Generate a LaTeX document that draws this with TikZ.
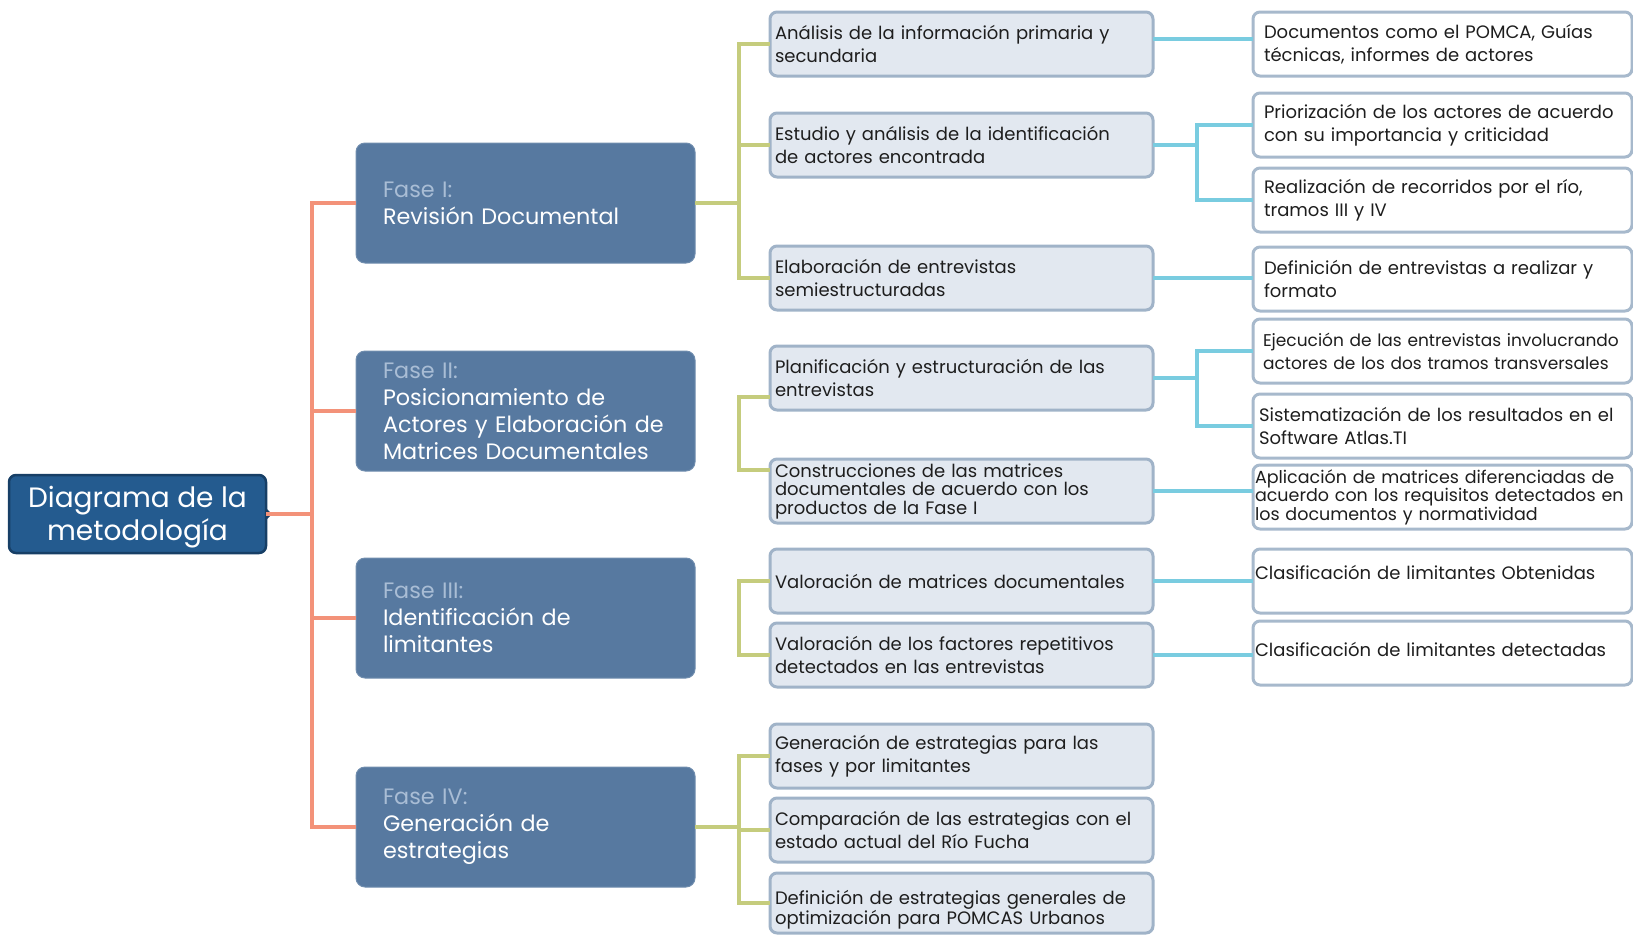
\documentclass[tikz,border=0pt]{standalone}
\usepackage{fontspec}
\setmainfont{Poppins}
\usetikzlibrary{positioning}
\definecolor{rootfill}{HTML}{245B8F}
\definecolor{rootedge}{HTML}{173F66}
\definecolor{phasefill}{HTML}{5779A0}
\definecolor{phaselabel}{HTML}{A9BDD5}
\definecolor{taskfill}{HTML}{E2E8F0}
\definecolor{taskedge}{HTML}{A0B3C8}
\definecolor{resultedge}{HTML}{A7B9CC}
\definecolor{ink}{HTML}{1E1E1E}
\definecolor{orangeline}{HTML}{F39279}
\definecolor{greenline}{HTML}{C5CC7D}
\definecolor{cyanline}{HTML}{79CCE0}
\hyphenpenalty=10000
\exhyphenpenalty=10000
\tikzset{
  rootbox/.style={draw=rootedge, fill=rootfill, line width=2.5pt, rounded corners=7pt, text=white, align=center, font=\fontsize{28}{33}\selectfont, minimum width=257pt, minimum height=78pt, inner sep=0pt, outer sep=0pt},
  phase/.style={draw=phasefill!85!white, fill=phasefill, line width=1pt, rounded corners=9pt, text=white, align=left, font=\fontsize{22.3}{27}\selectfont, text width=285pt, inner xsep=27pt, inner ysep=4pt, minimum height=120pt, outer sep=0pt},
  task/.style={draw=taskedge, fill=taskfill, line width=3pt, rounded corners=7pt, text=ink, align=left, font=\fontsize{18}{23}\selectfont, text width=373pt, inner xsep=5pt, inner ysep=0pt, minimum height=64pt, outer sep=0pt},
  result/.style={task, draw=resultedge, fill=white, text width=357pt, inner xsep=11pt},
  snug/.style={font=\fontsize{18}{18.5}\selectfont},
  squeezed/.style={font=\fontsize{17}{23}\selectfont, text width=359pt, inner xsep=10pt},
  flush/.style={text width=375pt, inner xsep=2pt},
  trunk/.style={draw=orangeline, line width=4pt},
  branch/.style={draw=greenline, line width=4pt},
  leaf/.style={draw=cyanline, line width=4pt},
}
\newcommand{\fase}[1]{{\color{phaselabel}#1}}

\begin{document}
\begin{tikzpicture}[x=1pt, y=1pt]
  \useasboundingbox (0,0) rectangle (1633,-935);

  \node[rootbox, text depth=1pt] (root) at (137.5,-514) {Diagrama de la\\metodología};
  \fill[rootedge] ([yshift=6pt]root.east) -- ++(6,-6) -- ++(-6,-6) -- cycle;

  \node[phase] (fase1) at (525.5,-203) {\fase{Fase I:}\\Revisión Documental};
  \node[phase, below=88pt of fase1] (fase2) {\fase{Fase II:}\\Posicionamiento de\\Actores y Elaboración de\\Matrices Documentales};
  \node[phase, below=87pt of fase2] (fase3) {\fase{Fase III:}\\Identificación de\\limitantes};
  \node[phase, below=89pt of fase3] (fase4) {\fase{Fase IV:}\\Generación de\\estrategias};

  % segunda columna
  \node[task] (a1) at (961.5,-44) {Análisis de la información primaria y\\secundaria};
  \node[task, below=37pt of a1] (a2) {Estudio y análisis de la identificación\\de actores encontrada};
  \node[task, below=69pt of a2] (a3) {Elaboración de entrevistas\\semiestructuradas};
  \node[task, below=36pt of a3] (b1) {Planificación y estructuración de las\\entrevistas};
  \node[task, snug, below=49pt of b1] (b2) {Construcciones de las matrices\\documentales de acuerdo con los\\productos de la Fase I};
  \node[task, below=26pt of b2] (c1) {Valoración de matrices documentales};
  \node[task, below=10pt of c1] (c2) {Valoración de los factores repetitivos\\detectados en las entrevistas};
  \node[task, below=37pt of c2] (d1) {Generación de estrategias para las\\fases y por limitantes};
  \node[task, below=10pt of d1] (d2) {Comparación de las estrategias con el\\estado actual del Río Fucha};
  \node[task, snug, minimum height=60pt, below=11pt of d2] (d3) {\rule{0pt}{27pt}Definición de estrategias generales de\\optimización para POMCAS Urbanos};

  % tercera columna
  \node[result] (e1) at (1442.5,-44) {Documentos como el POMCA, Guías\\técnicas, informes de actores};
  \node[result, below=17pt of e1] (e2) {Priorización de los actores de acuerdo\\con su importancia y criticidad};
  \node[result, below=11pt of e2] (e3) {Realización de recorridos por el río,\\tramos III y IV};
  \node[result, below=15pt of e3] (e4) {Definición de entrevistas a realizar y\\formato};
  \node[result, squeezed, below=8pt of e4] (e5) {Ejecución de las entrevistas involucrando\\actores de los dos tramos transversales};
  \node[result, text width=367pt, inner xsep=6pt, below=11pt of e5] (e6) {Sistematización de los resultados en el\\Software Atlas.TI};
  \node[result, flush, font=\fontsize{17.5}{18.5}\selectfont, below=7pt of e6] (e7) {Aplicación de matrices diferenciadas de\\acuerdo con los requisitos detectados en\\los documentos y normatividad};
  \node[result, flush, text depth=18pt, below=20pt of e7] (e8) {Clasificación de limitantes Obtenidas};
  \node[result, flush, text depth=8pt, below=8pt of e8] (e9) {Clasificación de limitantes detectadas};

  % conectores
  \path (root.east) ++(46,0) coordinate (spine);
  \draw[trunk] (root) -- (spine);
  \draw[trunk] (spine) |- (fase1);
  \draw[trunk] (spine) |- (fase2);
  \draw[trunk] (spine) |- (fase3);
  \draw[trunk] (spine) |- (fase4);

  \path (fase1.east) ++(44,0) coordinate (hub1);
  \draw[branch] (fase1) -- (hub1);
  \draw[branch] (hub1) |- (a1);
  \draw[branch] (hub1) |- (a2);
  \draw[branch] (hub1) |- (a3);
  \draw[branch] ([yshift=-19pt]b1.west) -- ++(-31,0) |- ([yshift=21pt]b2.west);
  \draw[branch] (c1.west) -- ++(-31,0) |- (c2.west);
  \path (fase4.east) ++(44,0) coordinate (hub4);
  \draw[branch] (fase4) -- (hub4);
  \draw[branch] (hub4) |- (d1);
  \draw[branch] (hub4) |- (d2);
  \draw[branch] (hub4) |- (d3);

  \draw[leaf] ([yshift=5pt]a1.east) -- ([yshift=5pt]e1.west);
  \path (a2.east) ++(44,0) coordinate (hub2);
  \draw[leaf] (a2) -- (hub2);
  \draw[leaf] (hub2) |- (e2);
  \draw[leaf] (hub2) |- (e3);
  \draw[leaf] (a3) -- (a3 -| e4.west);
  \path (b1.east) ++(44,0) coordinate (hub5);
  \draw[leaf] (b1) -- (hub5);
  \draw[leaf] (hub5) |- (e5);
  \draw[leaf] (hub5) |- (e6);
  \draw[leaf] (b2) -- (b2 -| e7.west);
  \draw[leaf] (c1) -- (c1 -| e8.west);
  \draw[leaf] (c2) -- (c2 -| e9.west);
\end{tikzpicture}
\end{document}
